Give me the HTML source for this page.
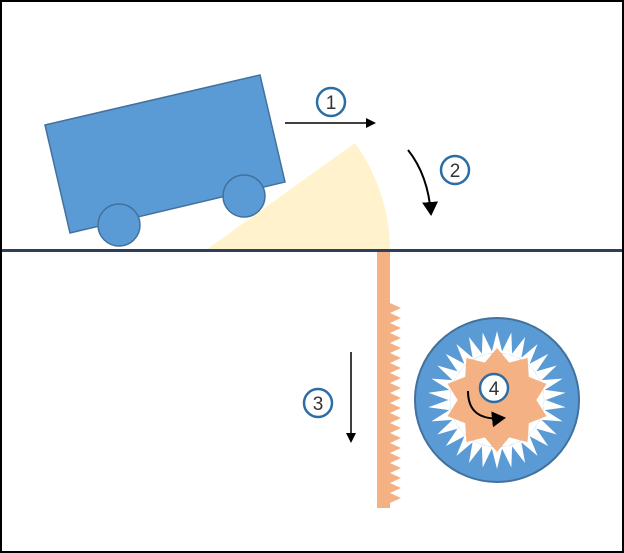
<!DOCTYPE html>
<html><head><meta charset="utf-8"><style>
html,body{margin:0;padding:0;background:#fff}
svg{display:block}
text{font-family:"Liberation Sans",sans-serif;font-size:19px;fill:#333}
</style></head><body>
<svg width="624" height="553" viewBox="0 0 624 553" xmlns="http://www.w3.org/2000/svg">
<defs>
<marker id="ah" markerWidth="10" markerHeight="10" refX="8" refY="5" orient="auto" markerUnits="userSpaceOnUse"><path d="M0 0 L10 5 L0 10 Z" fill="#000"/></marker>
<marker id="ahb" markerWidth="16" markerHeight="16" refX="12" refY="8" orient="auto" markerUnits="userSpaceOnUse"><path d="M0 0 L14 8 L0 16 Z" fill="#000"/></marker>
</defs>
<rect x="1" y="1" width="622" height="551" fill="#fff" stroke="#000" stroke-width="2"/>
<path d="M206 250 L355 143 A184 184 0 0 1 390 250 Z" fill="#fff2cc"/>
<line x1="2" y1="250.5" x2="622" y2="250.5" stroke="#2e3f5c" stroke-width="3"/>
<polygon points="45,125 260,75 285,182 70,233" fill="#5b9bd5" stroke="#41719c" stroke-width="1.5"/>
<circle cx="119" cy="225" r="21" fill="#5b9bd5" stroke="#41719c" stroke-width="1.5"/>
<circle cx="244" cy="196" r="21" fill="#5b9bd5" stroke="#41719c" stroke-width="1.5"/>
<path d="M377 252 H390 V303 l11 5 -11 5 l11 5 -11 5 l11 5 -11 5 l11 5 -11 5 l11 5 -11 5 l11 5 -11 5 l11 5 -11 5 l11 5 -11 5 l11 5 -11 5 l11 5 -11 5 l11 5 -11 5 l11 5 -11 5 l11 5 -11 5 l11 5 -11 5 l11 5 -11 5 l11 5 -11 5 l11 5 -11 5 l11 5 -11 5 l11 5 -11 5 l11 5 -11 5 V508 H377 Z" fill="#f4b183"/>
<circle cx="497" cy="400" r="82" fill="#5b9bd5" stroke="#41719c" stroke-width="2"/>
<g transform="translate(497,400)">
<circle r="47" fill="#fff"/>
<g id="wt"><polygon points="-5.5,-47 5.5,-47 0,-69" fill="#fff"/></g>
<use href="#wt" transform="rotate(12)"/><use href="#wt" transform="rotate(24)"/><use href="#wt" transform="rotate(36)"/><use href="#wt" transform="rotate(48)"/><use href="#wt" transform="rotate(60)"/><use href="#wt" transform="rotate(72)"/><use href="#wt" transform="rotate(84)"/><use href="#wt" transform="rotate(96)"/><use href="#wt" transform="rotate(108)"/><use href="#wt" transform="rotate(120)"/><use href="#wt" transform="rotate(132)"/><use href="#wt" transform="rotate(144)"/><use href="#wt" transform="rotate(156)"/><use href="#wt" transform="rotate(168)"/><use href="#wt" transform="rotate(180)"/><use href="#wt" transform="rotate(192)"/><use href="#wt" transform="rotate(204)"/><use href="#wt" transform="rotate(216)"/><use href="#wt" transform="rotate(228)"/><use href="#wt" transform="rotate(240)"/><use href="#wt" transform="rotate(252)"/><use href="#wt" transform="rotate(264)"/><use href="#wt" transform="rotate(276)"/><use href="#wt" transform="rotate(288)"/><use href="#wt" transform="rotate(300)"/><use href="#wt" transform="rotate(312)"/><use href="#wt" transform="rotate(324)"/><use href="#wt" transform="rotate(336)"/><use href="#wt" transform="rotate(348)"/>
<circle r="39" fill="#f4b183"/>
<g id="ot"><polygon points="-12.5,-37 12.5,-37 0,-52" fill="#f4b183"/></g>
<use href="#ot" transform="rotate(36)"/><use href="#ot" transform="rotate(72)"/><use href="#ot" transform="rotate(108)"/><use href="#ot" transform="rotate(144)"/><use href="#ot" transform="rotate(180)"/><use href="#ot" transform="rotate(216)"/><use href="#ot" transform="rotate(252)"/><use href="#ot" transform="rotate(288)"/><use href="#ot" transform="rotate(324)"/>
</g>
<line x1="285" y1="123" x2="374" y2="123" stroke="#000" stroke-width="1.5" marker-end="url(#ah)"/>
<path d="M408 150 Q428 175 431 214" fill="none" stroke="#000" stroke-width="2" marker-end="url(#ahb)"/>
<line x1="351" y1="352" x2="351" y2="441" stroke="#000" stroke-width="1.5" marker-end="url(#ah)"/>
<path d="M468 391 Q468 422 504 418" fill="none" stroke="#000" stroke-width="2" marker-end="url(#ahb)"/>
<g fill="#fff" stroke="#2e6ca4" stroke-width="2.5">
<circle cx="331" cy="102" r="14"/>
<circle cx="455" cy="170" r="14"/>
<circle cx="318" cy="403" r="14"/>
<circle cx="494" cy="388" r="14"/>
</g>
<text x="331" y="109" text-anchor="middle">1</text>
<text x="455" y="177" text-anchor="middle">2</text>
<text x="318" y="410" text-anchor="middle">3</text>
<text x="494" y="395" text-anchor="middle">4</text>
</svg>
</body></html>
